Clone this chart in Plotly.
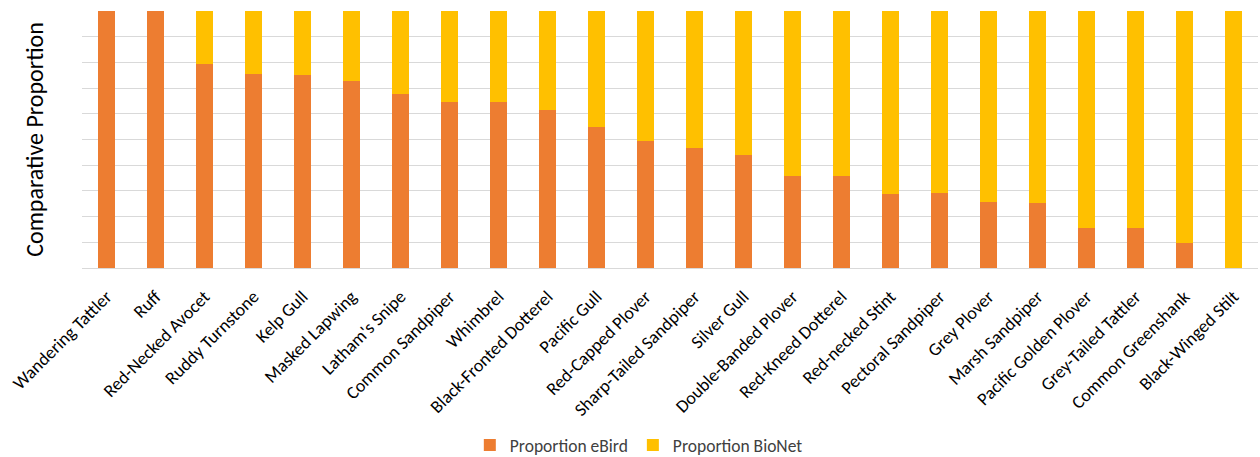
import plotly.graph_objects as go

species = [
    "Wandering Tattler", "Ruff", "Red-Necked Avocet", "Ruddy Turnstone", "Kelp Gull",
    "Masked Lapwing", "Latham's Snipe", "Common Sandpiper", "Whimbrel",
    "Black-Fronted Dotterel", "Pacific Gull", "Red-Capped Plover",
    "Sharp-Tailed Sandpiper", "Silver Gull", "Double-Banded Plover",
    "Red-Kneed Dotterel", "Red-necked Stint", "Pectoral Sandpiper", "Grey Plover",
    "Marsh Sandpiper", "Pacific Golden Plover", "Grey-Tailed Tattler",
    "Common Greenshank", "Black-Winged Stilt",
]
prop_ebird = [
    1.00, 1.00, 0.795, 0.755, 0.75, 0.727, 0.678, 0.647, 0.645, 0.616, 0.549, 0.495,
    0.466, 0.44, 0.357, 0.357, 0.287, 0.29, 0.258, 0.253, 0.156, 0.154, 0.097, 0.0,
]
prop_bionet = [round(1 - v, 3) for v in prop_ebird]

FONT = "Carlito, Calibri, Lato, sans-serif"

fig = go.Figure()
fig.add_trace(go.Bar(x=species, y=prop_ebird, name="Proportion eBird",
                     marker=dict(color="#ED7D31", line=dict(width=0))))
fig.add_trace(go.Bar(x=species, y=prop_bionet, name="Proportion BioNet",
                     marker=dict(color="#FFC000", line=dict(width=0))))

fig.update_layout(
    barmode="stack",
    bargap=0.67,
    width=1260, height=457,
    margin=dict(l=82, r=2, t=11, b=189, autoexpand=False),
    paper_bgcolor="white", plot_bgcolor="white",
    font=dict(family=FONT, color="#000000"),
    showlegend=True,
    legend=dict(orientation="h", xref="container", x=0.507, xanchor="center",
                yref="container", y=0.026, yanchor="middle",
                font=dict(size=17.5, color="#404040"), itemwidth=30,
                traceorder="normal"),
    xaxis=dict(tickangle=-45, tickfont=dict(size=18, color="#000000"),
               ticklabelstandoff=10, automargin=False,
               showline=True, linecolor="#D9D9D9", linewidth=1, ticks="",
               showgrid=False),
    yaxis=dict(range=[0, 1], dtick=0.1, showticklabels=False, showgrid=True,
               gridcolor="#D9D9D9", gridwidth=1, zeroline=False, automargin=False,
               title=dict(text="Comparative Proportion", font=dict(size=24, color="#000000"),
                          standoff=30)),
)

fig.write_html("out.html")
